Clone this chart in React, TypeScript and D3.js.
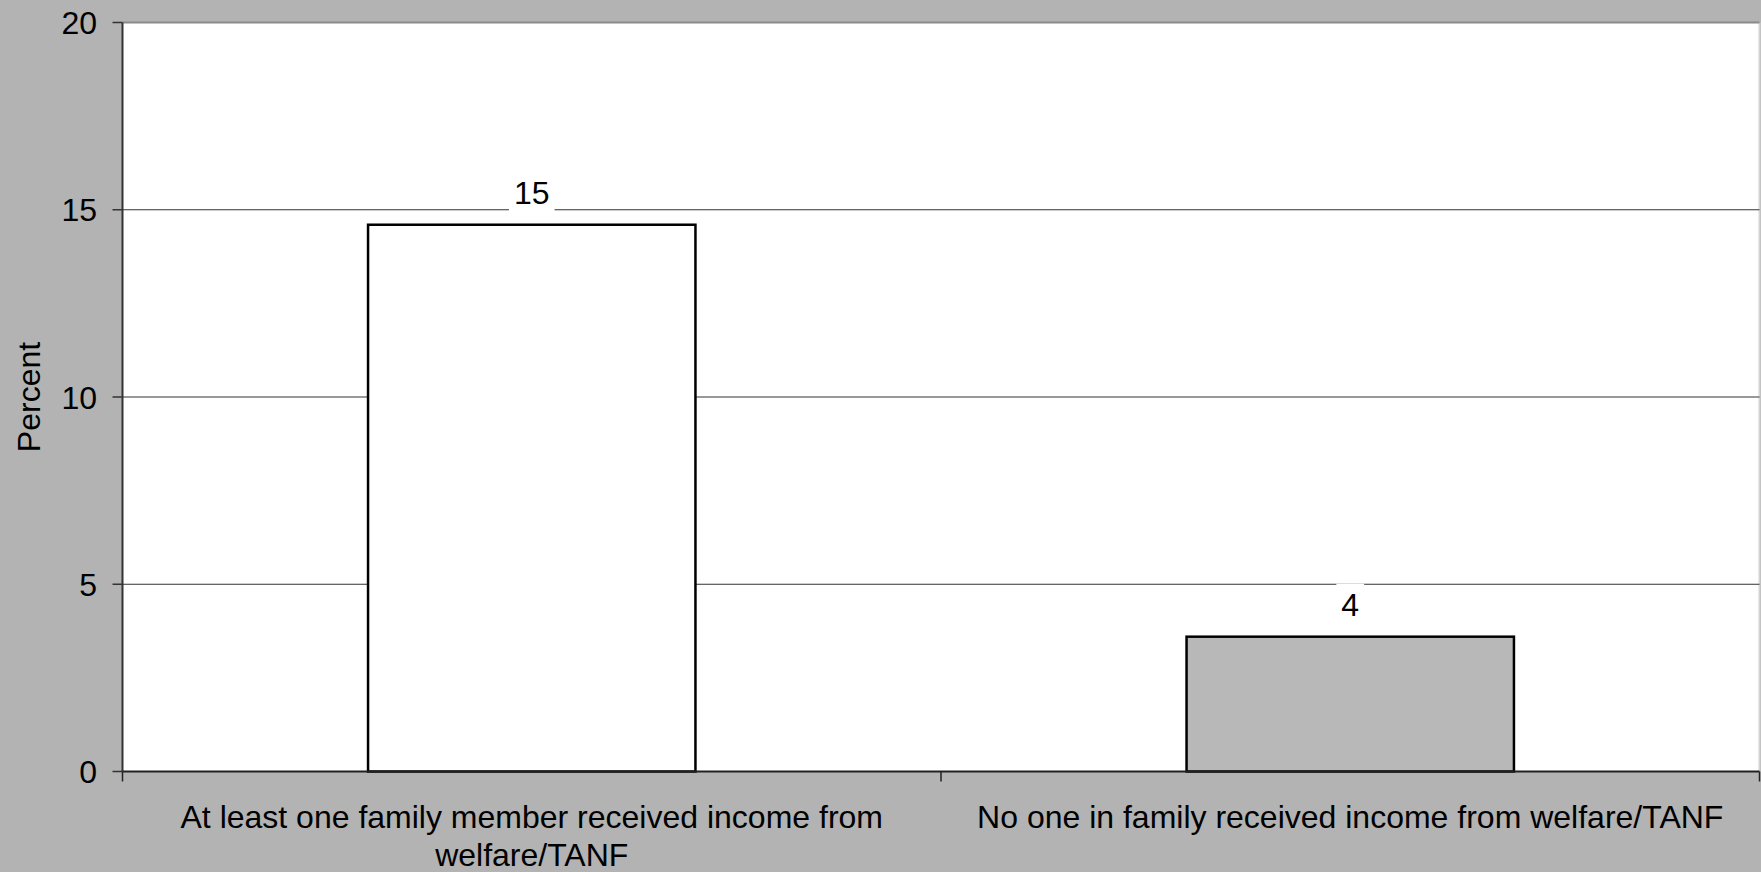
import React, { useEffect } from "react";
import * as d3 from "d3";

const categories: string[] = [
  "At least one family member received income from welfare/TANF",
  "No one in family received income from welfare/TANF",
];
const values: number[] = [14.6, 3.6];
const valueLabels: string[] = ["15", "4"];
const barFills: string[] = ["#ffffff", "#b8b8b8"];
const yTicks: number[] = [0, 5, 10, 15, 20];
const yTitle = "Percent";

const W = 1761;
const H = 872;
const M = { left: 122.5, right: 1759.5, top: 22.5, bottom: 771.5 };
const FONT = "Arial, 'Liberation Sans', Helvetica, sans-serif";
const FS = 32;

function wrap(text: string, maxW: number): string[] {
  const canvas = document.createElement("canvas");
  const ctx = canvas.getContext("2d")!;
  ctx.font = `${FS}px ${FONT}`;
  const words = text.split(" ");
  const lines: string[] = [];
  let cur = "";
  for (const w of words) {
    const t = cur ? cur + " " + w : w;
    if (ctx.measureText(t).width > maxW && cur) {
      lines.push(cur);
      cur = w;
    } else cur = t;
  }
  if (cur) lines.push(cur);
  return lines;
}

export default function App() {
  useEffect(() => {
    document.body.style.margin = "0";
  }, []);

  const x = d3
    .scaleBand<string>()
    .domain(categories)
    .range([M.left, M.right])
    .paddingInner(0.6)
    .paddingOuter(0.3);
  const y = d3.scaleLinear().domain([0, 20]).range([M.bottom, M.top]);
  const step = x.step();
  const bounds = [M.left, ...categories.map((c) => (x(c) as number) - step * 0.3 + step)];

  return (
    <svg width={W} height={H} style={{ display: "block" }} fontFamily={FONT}>
      <rect x={0} y={0} width={W} height={H} fill="#b3b3b3" />
      <rect x={M.left} y={M.top} width={M.right - M.left} height={M.bottom - M.top} fill="#ffffff" />
      <line x1={M.right} x2={M.right} y1={M.top} y2={M.bottom} stroke="#d4d4d4" strokeWidth={2} />
      {yTicks
        .filter((t) => t > 0 && t < 20)
        .map((t) => (
          <line key={"g" + t} x1={M.left} x2={M.right} y1={y(t)} y2={y(t)} stroke="#333333" strokeWidth={1} />
        ))}
      <line x1={M.left} x2={M.right} y1={y(20)} y2={y(20)} stroke="#8a8a8a" strokeWidth={2} />
      {categories.map((c, i) => (
        <rect
          key={"b" + i}
          x={x(c)}
          y={y(values[i])}
          width={x.bandwidth()}
          height={y(0) - y(values[i])}
          fill={barFills[i]}
          stroke="#000000"
          strokeWidth={2.5}
        />
      ))}
      {categories.map((c, i) => {
        const cx = (x(c) as number) + x.bandwidth() / 2;
        const by = y(values[i]) - 21;
        const tw = valueLabels[i].length * FS * 0.556;
        return (
          <g key={"l" + i}>
            <rect x={cx - tw / 2 - 5} y={by - 32} width={tw + 10} height={40} fill="#ffffff" />
            <text x={cx} y={by} textAnchor="middle" fontSize={FS} fill="#000">
              {valueLabels[i]}
            </text>
          </g>
        );
      })}
      <line x1={M.left} x2={M.left} y1={M.top} y2={M.bottom} stroke="#333333" strokeWidth={2} />
      <line x1={M.left} x2={M.right} y1={M.bottom} y2={M.bottom} stroke="#222222" strokeWidth={2} />
      {yTicks.map((t) => (
        <g key={"t" + t}>
          <line x1={M.left - 10} x2={M.left} y1={y(t)} y2={y(t)} stroke="#333333" strokeWidth={1.5} />
          <text x={97} y={y(t)} dy="0.36em" textAnchor="end" fontSize={FS} fill="#000">
            {t}
          </text>
        </g>
      ))}
      {bounds.map((bx, i) => (
        <line key={"xt" + i} x1={bx} x2={bx} y1={M.bottom} y2={M.bottom + 10} stroke="#222" strokeWidth={1.5} />
      ))}
      {categories.map((c, i) => {
        const cx = (x(c) as number) + x.bandwidth() / 2;
        const lines = wrap(c, step - 20);
        return (
          <text key={"c" + i} textAnchor="middle" fontSize={FS} fill="#000">
            {lines.map((ln, j) => (
              <tspan key={j} x={cx} y={828 + j * 38}>
                {ln}
              </tspan>
            ))}
          </text>
        );
      })}
      <text
        transform={`translate(40,${(M.top + M.bottom) / 2}) rotate(-90)`}
        textAnchor="middle"
        fontSize={FS}
        fill="#000"
      >
        {yTitle}
      </text>
    </svg>
  );
}
